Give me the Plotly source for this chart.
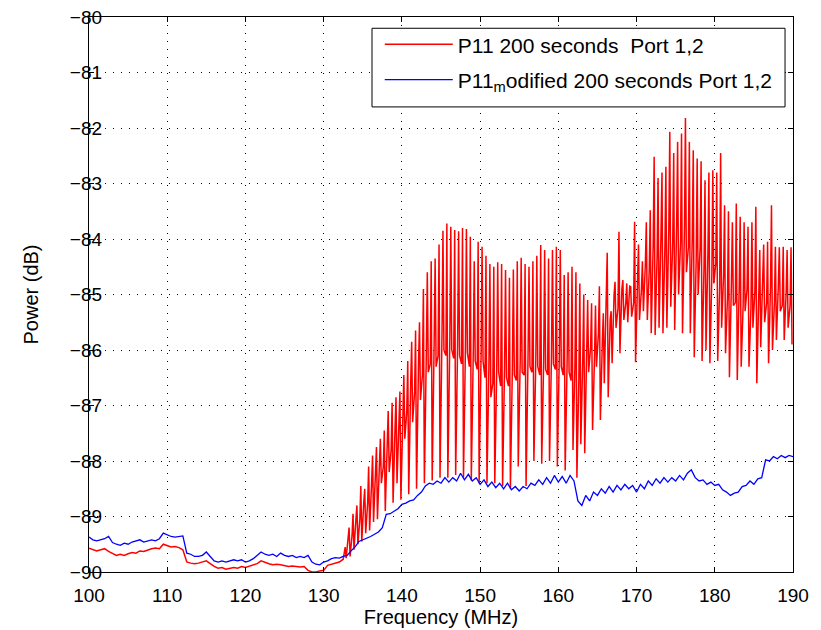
import numpy as np
import plotly.graph_objects as go

# ---------------- data ----------------
# smooth low-frequency part of the red trace, 100.0 .. 132.5 MHz step 0.5
red_base_f = np.arange(100.0, 132.51, 0.5)
red_base = [
    -89.57, -89.60, -89.62, -89.60, -89.58, -89.63, -89.67, -89.70, -89.68, -89.70,
    -89.67, -89.65, -89.66, -89.62, -89.63, -89.60, -89.58, -89.57, -89.58, -89.50,
    -89.52, -89.55, -89.54, -89.56, -89.60, -89.82, -89.84, -89.85, -89.84, -89.82,
    -89.80, -89.85, -89.90, -89.93, -89.92, -89.95, -89.93, -89.92, -89.93, -89.90,
    -89.92, -89.90, -89.88, -89.85, -89.80, -89.83, -89.85, -89.87, -89.86, -89.87,
    -89.88, -89.90, -89.89, -89.90, -89.91, -89.90, -89.97, -90.00, -90.00, -89.98,
    -89.97, -89.88, -89.86, -89.84, -89.82, -89.77,
]

# oscillating part of the red trace: one spike every 0.5 MHz, 133.0 .. 190.0 MHz
spike_f = np.arange(133.0, 190.01, 0.5)
red_hi = [
    -89.55, -89.20, -88.95, -88.80, -88.45, -88.50, -88.10, -87.90, -87.75, -87.60,
    -87.45, -87.10, -86.95, -86.85, -86.75, -86.45, -86.20, -85.85, -85.65, -85.50,
    -84.90, -84.60, -84.40, -84.35, -84.10, -83.85, -83.72, -83.78, -83.84, -83.86,
    -83.80, -83.82, -83.96, -84.40, -84.05, -84.14, -84.30, -84.45, -84.50, -84.42,
    -84.45, -84.56, -84.70, -84.55, -84.40, -84.34, -84.45, -84.50, -84.40, -84.30,
    -84.11, -84.20, -84.35, -84.20, -84.14, -84.20, -84.65, -84.60, -84.50, -84.60,
    -84.80, -85.00, -85.10, -85.16, -85.20, -84.85, -85.34, -84.25, -85.30, -84.77,
    -83.87, -84.74, -84.80, -84.86, -83.69, -84.10, -84.40, -83.70, -83.48, -82.52,
    -82.90, -82.80, -82.70, -82.07, -82.45, -82.25, -82.10, -81.82, -82.25, -82.40,
    -82.55, -82.60, -82.94, -82.80, -82.76, -82.80, -82.45, -83.39, -83.50, -83.70,
    -83.36, -83.60, -83.70, -83.78, -83.70, -83.42, -84.20, -84.10, -84.05, -83.39,
    -84.14, -84.15, -84.14, -84.20, -84.15,
]
red_lo = [
    -89.75, -89.72, -89.60, -89.50, -89.45, -89.30, -89.25, -89.10, -89.05, -88.40,
    -88.90, -88.20, -88.75, -88.40, -88.70, -87.60, -88.60, -87.30, -88.50, -86.90,
    -88.40, -86.40, -88.35, -86.30, -88.30, -86.00, -88.30, -86.00, -88.25, -86.10,
    -88.30, -86.05, -88.35, -86.20, -88.40, -86.20, -88.40, -86.85, -88.40, -86.40,
    -88.45, -86.50, -88.50, -86.45, -88.10, -86.40, -88.45, -86.30, -88.00, -86.30,
    -88.05, -86.35, -88.00, -86.25, -88.10, -86.30, -88.17, -86.40, -87.80, -88.30,
    -87.70, -87.86, -86.40, -87.44, -86.30, -87.26, -86.60, -86.85, -86.24, -85.60,
    -86.06, -85.46, -85.50, -85.40, -86.22, -85.46, -85.30, -85.46, -85.70, -85.73,
    -85.60, -85.70, -85.60, -85.22, -85.64, -85.00, -85.70, -84.60, -85.70, -86.13,
    -85.00, -86.20, -86.00, -86.24, -84.80, -86.20, -85.60, -86.06, -86.49, -85.20,
    -86.54, -86.30, -85.30, -86.30, -85.60, -86.60, -85.95, -85.50, -86.24, -86.00,
    -85.82, -85.30, -85.82, -85.60, -85.90,
]
# resting level between the spikes (the blotchy middle band)
red_mid = [
    -89.65, -89.40, -89.35, -89.05, -89.05, -88.75, -88.75, -88.40, -88.30, -87.95,
    -88.10, -87.70, -87.80, -87.40, -87.50, -87.00, -87.10, -86.60, -86.75, -86.25,
    -86.45, -86.05, -86.25, -85.85, -86.10, -85.75, -86.10, -85.85, -86.15, -85.90,
    -86.25, -85.95, -86.30, -86.05, -86.35, -86.10, -86.50, -86.30, -86.60, -86.35,
    -86.65, -86.30, -86.65, -86.30, -86.55, -86.20, -86.45, -86.15, -86.40, -86.15,
    -86.45, -86.20, -86.45, -86.10, -86.35, -86.10, -86.45, -86.20, -86.55, -86.25,
    -86.50, -86.15, -86.35, -85.95, -86.15, -85.70, -85.85, -85.35, -85.45, -85.00,
    -85.25, -84.90, -85.15, -84.85, -85.15, -84.75, -84.90, -84.45, -84.55, -84.10,
    -84.30, -83.90, -84.15, -83.80, -84.05, -83.75, -84.05, -83.80, -84.15, -83.95,
    -84.35, -84.15, -84.50, -84.25, -84.65, -84.45, -84.85, -84.65, -85.05, -84.80,
    -85.15, -84.85, -85.20, -84.90, -85.25, -84.95, -85.20, -84.85, -85.15, -84.85,
    -85.15, -84.85, -85.20, -84.95, -85.20,
]

# blue trace, 100.0 .. 190.0 MHz step 0.5
blue_f = np.arange(100.0, 190.01, 0.5)
blue = [
    -89.37, -89.42, -89.44, -89.42, -89.40, -89.36, -89.47, -89.50, -89.52, -89.48,
    -89.50, -89.46, -89.44, -89.42, -89.46, -89.44, -89.42, -89.44, -89.40, -89.30,
    -89.33, -89.36, -89.37, -89.36, -89.35, -89.66, -89.68, -89.72, -89.72, -89.70,
    -89.64, -89.72, -89.80, -89.82, -89.80, -89.82, -89.80, -89.78, -89.80, -89.78,
    -89.82, -89.80, -89.76, -89.70, -89.64, -89.68, -89.70, -89.68, -89.72, -89.66,
    -89.70, -89.72, -89.70, -89.74, -89.72, -89.74, -89.70, -89.82, -89.86, -89.87,
    -89.82, -89.80, -89.76, -89.74, -89.75, -89.72, -89.70, -89.62, -89.55, -89.45,
    -89.42, -89.40, -89.36, -89.32, -89.28, -89.20, -88.96, -88.95, -88.90, -88.86,
    -88.78, -88.76, -88.72, -88.70, -88.62, -88.56, -88.45, -88.40, -88.42, -88.36,
    -88.40, -88.30, -88.38, -88.30, -88.36, -88.22, -88.34, -88.24, -88.36, -88.30,
    -88.42, -88.34, -88.46, -88.38, -88.48, -88.40, -88.50, -88.40, -88.52, -88.46,
    -88.54, -88.46, -88.50, -88.40, -88.44, -88.34, -88.42, -88.30, -88.40, -88.26,
    -88.38, -88.28, -88.40, -88.26, -88.36, -88.72, -88.80, -88.62, -88.72, -88.56,
    -88.62, -88.50, -88.58, -88.46, -88.56, -88.44, -88.52, -88.42, -88.50, -88.44,
    -88.56, -88.42, -88.50, -88.36, -88.44, -88.32, -88.40, -88.30, -88.38, -88.30,
    -88.36, -88.26, -88.34, -88.22, -88.16, -88.30, -88.36, -88.34, -88.42, -88.38,
    -88.44, -88.42, -88.52, -88.56, -88.62, -88.58, -88.56, -88.46, -88.44, -88.36,
    -88.42, -88.32, -88.30, -87.98, -88.00, -87.92, -87.96, -87.90, -87.94, -87.90,
    -87.92,
]

x_ticks = [100, 110, 120, 130, 140, 150, 160, 170, 180, 190]
y_ticks = [-80, -81, -82, -83, -84, -85, -86, -87, -88, -89, -90]

legend_red = "P11 200 seconds \u00a0Port 1,2"
legend_blue = "P11<sub>m</sub>odified 200 seconds Port 1,2"

# ---------------- build red trace: rest level -> up spike -> down spike ----------------
red_x = list(red_base_f)
red_y = list(red_base)
for f, m, h, l in zip(spike_f, red_mid, red_hi, red_lo):
    red_x += [f - 0.375, f - 0.25, f - 0.125]
    red_y += [m, h, l]

FONT = "Liberation Sans, Arial, sans-serif"

fig = go.Figure()
fig.add_trace(go.Scatter(x=red_x, y=red_y, mode="lines", name=legend_red,
                         line=dict(color="#ff0000", width=1.5), legendgroup="a"))
fig.add_trace(go.Scatter(x=list(blue_f), y=blue, mode="lines", name=legend_blue,
                         line=dict(color="#0000ff", width=1.3), legendgroup="b"))
# empty trace that only registers the label axis (yaxis2)
fig.add_trace(go.Scatter(x=[None], y=[None], yaxis="y2", mode="lines",
                         showlegend=False, hoverinfo="skip"))

axis_common = dict(
    showline=True, linecolor="black", linewidth=1, mirror="ticks",
    ticks="inside", ticklen=5, tickcolor="black", tickwidth=1,
    showgrid=True, gridcolor="black", gridwidth=1, griddash="1px,7px",
    zeroline=False, automargin=False,
    tickfont=dict(family=FONT, size=19, color="black"),
)

# legend frame (decoration, paper coordinates)
fig.add_shape(type="rect", xref="paper", yref="paper",
              x0=0.402, x1=0.9887, y0=0.838, y1=0.9797,
              line=dict(color="black", width=1), fillcolor="white", layer="above")

fig.update_layout(
    width=821, height=630,
    margin=dict(l=89, r=28, t=17, b=58),
    paper_bgcolor="white", plot_bgcolor="white",
    font=dict(family=FONT, color="black"),
    showlegend=True,
    legend=dict(x=0.413, y=0.987, xanchor="left", yanchor="top",
                bgcolor="rgba(0,0,0,0)", borderwidth=0,
                font=dict(family=FONT, size=21, color="black"),
                tracegroupgap=5, itemwidth=68),
    xaxis=dict(range=[100, 190], tickvals=x_ticks, ticklabelstandoff=6,
               title=dict(text="Frequency (MHz)", font=dict(family=FONT, size=20), standoff=4),
               **axis_common),
    # frame, ticks and grid of the y axis
    yaxis=dict(range=[-90, -80], tickvals=y_ticks, showticklabels=False,
               title=dict(text="Power (dB)", font=dict(family=FONT, size=20), standoff=44),
               **axis_common),
    # tick labels of the same y scale, set a little closer to the frame
    yaxis2=dict(range=[-90, -80], tickvals=y_ticks, overlaying="y", anchor="free",
                position=0.0185, side="left", showline=False, ticks="",
                showgrid=False, zeroline=False, automargin=False,
                tickfont=dict(family=FONT, size=19, color="black")),
)

fig.write_html("out.html", config={"displayModeBar": False},
               post_script="document.body.style.margin='0';document.body.style.overflow='hidden';")
